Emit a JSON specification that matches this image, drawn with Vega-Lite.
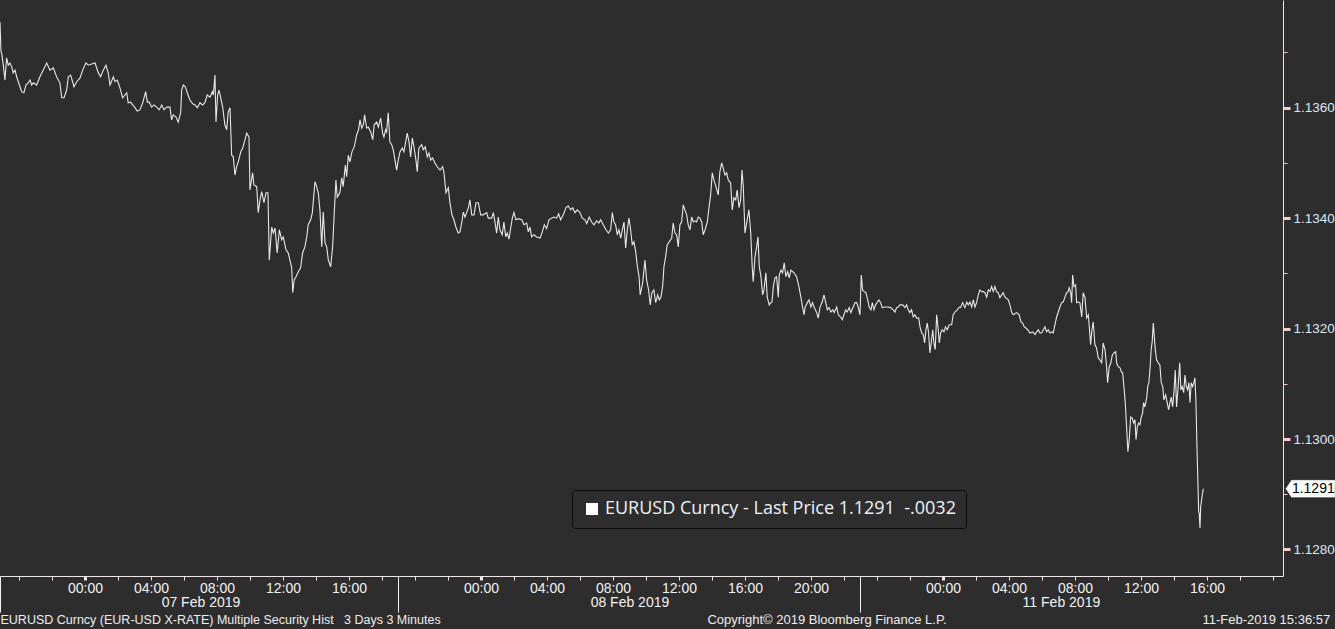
{
  "$schema": "https://vega.github.io/schema/vega-lite/v6.json",
  "width": 1283,
  "height": 576,
  "autosize": {"type": "none"},
  "padding": {"left": 0, "top": 0, "right": 52, "bottom": 53},
  "background": "#2d2d2d",
  "config": {"view": {"stroke": null}},
  "datasets": {
    "eurusd": [
      {"hour":-5.15,"price":1.13755},{"hour":-5.09,"price":1.13701},{"hour":-5.05,"price":1.13699},{"hour":-4.95,"price":1.13677},{"hour":-4.85,"price":1.1365},{"hour":-4.75,"price":1.1369},{"hour":-4.65,"price":1.13677},{"hour":-4.55,"price":1.13681},{"hour":-4.44,"price":1.13674},{"hour":-4.35,"price":1.13663},{"hour":-4.24,"price":1.13668},{"hour":-4.14,"price":1.13656},{"hour":-4.04,"price":1.13647},{"hour":-3.94,"price":1.13638},{"hour":-3.84,"price":1.13629},{"hour":-3.7,"price":1.13627},{"hour":-3.58,"price":1.13641},{"hour":-3.44,"price":1.13645},{"hour":-3.33,"price":1.1365},{"hour":-3.23,"price":1.13641},{"hour":-3.13,"price":1.13645},{"hour":-2.93,"price":1.13641},{"hour":-2.73,"price":1.13656},{"hour":-2.53,"price":1.13668},{"hour":-2.32,"price":1.13681},{"hour":-2.12,"price":1.13668},{"hour":-1.92,"price":1.13672},{"hour":-1.72,"price":1.13656},{"hour":-1.52,"price":1.13645},{"hour":-1.41,"price":1.13618},{"hour":-1.27,"price":1.13618},{"hour":-1.11,"price":1.13632},{"hour":-1.01,"price":1.13656},{"hour":-0.87,"price":1.13659},{"hour":-0.75,"price":1.13647},{"hour":-0.67,"price":1.13638},{"hour":-0.5,"price":1.13647},{"hour":-0.3,"price":1.13654},{"hour":-0.14,"price":1.13668},{"hour":0.06,"price":1.13681},{"hour":0.2,"price":1.13677},{"hour":0.41,"price":1.13679},{"hour":0.61,"price":1.13681},{"hour":0.81,"price":1.13663},{"hour":0.95,"price":1.13656},{"hour":1.11,"price":1.13668},{"hour":1.27,"price":1.13677},{"hour":1.41,"price":1.13663},{"hour":1.52,"price":1.13641},{"hour":1.72,"price":1.13656},{"hour":1.82,"price":1.13647},{"hour":1.96,"price":1.1365},{"hour":2.12,"price":1.13636},{"hour":2.28,"price":1.13618},{"hour":2.42,"price":1.13623},{"hour":2.53,"price":1.13627},{"hour":2.62,"price":1.13609},{"hour":2.77,"price":1.1361},{"hour":2.89,"price":1.13605},{"hour":3.03,"price":1.136},{"hour":3.17,"price":1.13594},{"hour":3.33,"price":1.13596},{"hour":3.5,"price":1.13609},{"hour":3.68,"price":1.13629},{"hour":3.78,"price":1.1361},{"hour":3.9,"price":1.1361},{"hour":4.04,"price":1.13601},{"hour":4.18,"price":1.13605},{"hour":4.35,"price":1.13601},{"hour":4.5,"price":1.13596},{"hour":4.65,"price":1.13605},{"hour":4.79,"price":1.13596},{"hour":4.95,"price":1.13601},{"hour":5.15,"price":1.13601},{"hour":5.25,"price":1.13578},{"hour":5.35,"price":1.13587},{"hour":5.52,"price":1.13583},{"hour":5.65,"price":1.13574},{"hour":5.8,"price":1.13591},{"hour":5.86,"price":1.13632},{"hour":5.96,"price":1.13641},{"hour":6.08,"price":1.13638},{"hour":6.2,"price":1.13627},{"hour":6.36,"price":1.13614},{"hour":6.53,"price":1.13607},{"hour":6.67,"price":1.13605},{"hour":6.81,"price":1.136},{"hour":6.97,"price":1.13609},{"hour":7.13,"price":1.13605},{"hour":7.27,"price":1.13609},{"hour":7.41,"price":1.13623},{"hour":7.58,"price":1.13619},{"hour":7.72,"price":1.13629},{"hour":7.78,"price":1.13623},{"hour":7.88,"price":1.13659},{"hour":7.94,"price":1.13574},{"hour":8.04,"price":1.13623},{"hour":8.12,"price":1.13632},{"hour":8.22,"price":1.13619},{"hour":8.35,"price":1.136},{"hour":8.48,"price":1.13569},{"hour":8.59,"price":1.1356},{"hour":8.68,"price":1.13592},{"hour":8.79,"price":1.136},{"hour":8.89,"price":1.13514},{"hour":8.99,"price":1.13511},{"hour":9.09,"price":1.13478},{"hour":9.19,"price":1.13493},{"hour":9.29,"price":1.13502},{"hour":9.44,"price":1.1352},
      {"hour":9.56,"price":1.13527},{"hour":9.7,"price":1.13542},{"hour":9.8,"price":1.13554},{"hour":9.94,"price":1.13547},{"hour":10.0,"price":1.13451},{"hour":10.16,"price":1.13482},{"hour":10.24,"price":1.1346},{"hour":10.41,"price":1.13457},{"hour":10.5,"price":1.1341},{"hour":10.61,"price":1.13433},{"hour":10.71,"price":1.13448},{"hour":10.85,"price":1.13428},{"hour":10.97,"price":1.13446},{"hour":11.09,"price":1.13446},{"hour":11.17,"price":1.13324},{"hour":11.32,"price":1.13384},{"hour":11.41,"price":1.13373},{"hour":11.52,"price":1.13382},{"hour":11.65,"price":1.13337},{"hour":11.78,"price":1.13379},{"hour":11.92,"price":1.13361},{"hour":12.02,"price":1.13366},{"hour":12.18,"price":1.13343},{"hour":12.32,"price":1.13337},{"hour":12.42,"price":1.13324},{"hour":12.53,"price":1.1331},{"hour":12.59,"price":1.13265},{"hour":12.68,"price":1.13288},{"hour":12.79,"price":1.13294},{"hour":12.93,"price":1.13303},{"hour":13.07,"price":1.1331},{"hour":13.19,"price":1.13337},{"hour":13.33,"price":1.13348},{"hour":13.44,"price":1.13366},{"hour":13.53,"price":1.13388},{"hour":13.68,"price":1.13397},{"hour":13.78,"price":1.1341},{"hour":13.94,"price":1.13466},{"hour":14.04,"price":1.13457},{"hour":14.14,"price":1.13446},{"hour":14.24,"price":1.13415},{"hour":14.35,"price":1.13348},{"hour":14.44,"price":1.13411},{"hour":14.55,"price":1.13355},{"hour":14.65,"price":1.13348},{"hour":14.75,"price":1.13324},{"hour":14.89,"price":1.13312},{"hour":15.01,"price":1.13348},{"hour":15.11,"price":1.1341},{"hour":15.21,"price":1.13469},{"hour":15.29,"price":1.13438},{"hour":15.45,"price":1.13446},{"hour":15.56,"price":1.13473},{"hour":15.65,"price":1.13457},{"hour":15.78,"price":1.13496},{"hour":15.86,"price":1.13475},{"hour":15.96,"price":1.13514},{"hour":16.06,"price":1.13502},{"hour":16.18,"price":1.1352},{"hour":16.32,"price":1.13529},{"hour":16.47,"price":1.13551},{"hour":16.58,"price":1.1356},{"hour":16.67,"price":1.13578},{"hour":16.77,"price":1.13563},{"hour":16.87,"price":1.13569},{"hour":16.95,"price":1.13587},{"hour":17.07,"price":1.13563},{"hour":17.17,"price":1.13565},{"hour":17.32,"price":1.13556},{"hour":17.44,"price":1.13542},{"hour":17.53,"price":1.13569},{"hour":17.68,"price":1.13574},{"hour":17.78,"price":1.13565},{"hour":17.92,"price":1.13581},{"hour":18.04,"price":1.13554},{"hour":18.12,"price":1.13547},{"hour":18.22,"price":1.1356},{"hour":18.28,"price":1.13556},{"hour":18.38,"price":1.13591},{"hour":18.48,"price":1.13538},{"hour":18.59,"price":1.13533},{"hour":18.68,"price":1.13524},{"hour":18.79,"price":1.13505},{"hour":18.89,"price":1.13487},{"hour":18.99,"price":1.13505},{"hour":19.09,"price":1.1352},{"hour":19.23,"price":1.13527},{"hour":19.33,"price":1.1352},{"hour":19.44,"price":1.13538},{"hour":19.53,"price":1.13554},{"hour":19.64,"price":1.13538},{"hour":19.74,"price":1.13511},{"hour":19.84,"price":1.13545},{"hour":19.94,"price":1.13529},{"hour":20.06,"price":1.13505},{"hour":20.14,"price":1.13484},{"hour":20.24,"price":1.13527},{"hour":20.41,"price":1.13533},{"hour":20.5,"price":1.13524},{"hour":20.62,"price":1.13529},{"hour":20.75,"price":1.13511},{"hour":20.85,"price":1.13518},{"hour":20.95,"price":1.13505},{"hour":21.07,"price":1.13509},{"hour":21.21,"price":1.135},{"hour":21.35,"price":1.13493},{"hour":21.52,"price":1.13487},{"hour":21.68,"price":1.13493},{"hour":21.76,"price":1.13482},{"hour":21.88,"price":1.13446},{"hour":22.02,"price":1.13455},{"hour":22.12,"price":1.13428},{"hour":22.24,"price":1.13406},{"hour":22.36,"price":1.13397},{"hour":22.48,"price":1.13384},{"hour":22.62,"price":1.13373},{"hour":22.73,"price":1.13375},{"hour":22.83,"price":1.13391},{"hour":22.93,"price":1.13411},{"hour":23.03,"price":1.13402},{"hour":23.13,"price":1.1341},{"hour":23.25,"price":1.1342},{"hour":23.33,"price":1.13433},{"hour":23.44,"price":1.13406},{"hour":23.58,"price":1.13406},{"hour":23.7,"price":1.13428},{"hour":23.84,"price":1.13428},{"hour":23.98,"price":1.13406},{"hour":24.14,"price":1.13406},
      {"hour":24.35,"price":1.1341},{"hour":24.44,"price":1.134},{"hour":24.65,"price":1.134},{"hour":24.75,"price":1.1341},{"hour":24.85,"price":1.13393},{"hour":24.95,"price":1.13373},{"hour":25.05,"price":1.13402},{"hour":25.15,"price":1.13379},{"hour":25.29,"price":1.1337},{"hour":25.39,"price":1.13393},{"hour":25.5,"price":1.13366},{"hour":25.59,"price":1.13373},{"hour":25.7,"price":1.13362},{"hour":25.8,"price":1.13382},{"hour":25.9,"price":1.134},{"hour":26.0,"price":1.1341},{"hour":26.12,"price":1.13397},{"hour":26.26,"price":1.13399},{"hour":26.47,"price":1.13397},{"hour":26.61,"price":1.13388},{"hour":26.77,"price":1.13391},{"hour":26.87,"price":1.13375},{"hour":26.97,"price":1.13384},{"hour":27.07,"price":1.13366},{"hour":27.21,"price":1.1337},{"hour":27.38,"price":1.13366},{"hour":27.58,"price":1.13364},{"hour":27.72,"price":1.13375},{"hour":27.84,"price":1.13388},{"hour":27.98,"price":1.13381},{"hour":28.12,"price":1.13397},{"hour":28.28,"price":1.134},{"hour":28.42,"price":1.13402},{"hour":28.59,"price":1.134},{"hour":28.71,"price":1.13408},{"hour":28.83,"price":1.13397},{"hour":28.99,"price":1.13406},{"hour":29.15,"price":1.13419},{"hour":29.29,"price":1.13422},{"hour":29.44,"price":1.13415},{"hour":29.56,"price":1.13419},{"hour":29.7,"price":1.1341},{"hour":29.84,"price":1.13415},{"hour":30.0,"price":1.1341},{"hour":30.14,"price":1.134},{"hour":30.3,"price":1.13397},{"hour":30.41,"price":1.1339},{"hour":30.56,"price":1.13402},{"hour":30.71,"price":1.13393},{"hour":30.85,"price":1.13388},{"hour":31.01,"price":1.13395},{"hour":31.15,"price":1.13391},{"hour":31.25,"price":1.13397},{"hour":31.41,"price":1.13388},{"hour":31.58,"price":1.13379},{"hour":31.72,"price":1.13373},{"hour":31.86,"price":1.13379},{"hour":31.96,"price":1.1341},{"hour":32.06,"price":1.13393},{"hour":32.16,"price":1.13388},{"hour":32.26,"price":1.1337},{"hour":32.36,"price":1.13379},{"hour":32.47,"price":1.13364},{"hour":32.59,"price":1.13382},{"hour":32.67,"price":1.13393},{"hour":32.77,"price":1.13346},{"hour":32.87,"price":1.13379},{"hour":32.97,"price":1.134},{"hour":33.07,"price":1.13379},{"hour":33.17,"price":1.13352},{"hour":33.27,"price":1.13357},{"hour":33.38,"price":1.13339},{"hour":33.47,"price":1.13315},{"hour":33.58,"price":1.13294},{"hour":33.65,"price":1.13261},{"hour":33.8,"price":1.13283},{"hour":33.94,"price":1.13324},{"hour":34.04,"price":1.13288},{"hour":34.16,"price":1.1327},{"hour":34.26,"price":1.13243},{"hour":34.36,"price":1.13265},{"hour":34.48,"price":1.1327},{"hour":34.59,"price":1.13247},{"hour":34.71,"price":1.13261},{"hour":34.81,"price":1.13252},{"hour":34.91,"price":1.13257},{"hour":35.01,"price":1.13276},{"hour":35.09,"price":1.13312},{"hour":35.19,"price":1.1333},{"hour":35.29,"price":1.13352},{"hour":35.41,"price":1.13357},{"hour":35.56,"price":1.13364},{"hour":35.65,"price":1.13391},{"hour":35.76,"price":1.13373},{"hour":35.86,"price":1.1337},{"hour":35.96,"price":1.13348},{"hour":36.06,"price":1.13388},{"hour":36.16,"price":1.13393},{"hour":36.26,"price":1.13424},{"hour":36.36,"price":1.13415},{"hour":36.47,"price":1.13406},{"hour":36.56,"price":1.13388},{"hour":36.67,"price":1.13379},{"hour":36.77,"price":1.13402},{"hour":36.87,"price":1.13393},{"hour":36.97,"price":1.13395},{"hour":37.07,"price":1.13393},{"hour":37.17,"price":1.13402},{"hour":37.27,"price":1.134},{"hour":37.38,"price":1.13393},{"hour":37.47,"price":1.1337},{"hour":37.58,"price":1.13379},{"hour":37.72,"price":1.13393},{"hour":37.82,"price":1.13419},{"hour":37.92,"price":1.13442},{"hour":38.02,"price":1.13482},{"hour":38.12,"price":1.13469},{"hour":38.24,"price":1.13457},{"hour":38.38,"price":1.13442},{"hour":38.48,"price":1.13484},
      {"hour":38.59,"price":1.135},{"hour":38.68,"price":1.13491},{"hour":38.79,"price":1.13478},{"hour":38.89,"price":1.13482},{"hour":38.99,"price":1.13469},{"hour":39.13,"price":1.13464},{"hour":39.23,"price":1.13415},{"hour":39.33,"price":1.13437},{"hour":39.44,"price":1.13433},{"hour":39.53,"price":1.13451},{"hour":39.64,"price":1.13419},{"hour":39.74,"price":1.13433},{"hour":39.82,"price":1.13487},{"hour":39.9,"price":1.13457},{"hour":40.0,"price":1.13373},{"hour":40.1,"price":1.13391},{"hour":40.24,"price":1.13415},{"hour":40.35,"price":1.13373},{"hour":40.44,"price":1.13312},{"hour":40.5,"price":1.13285},{"hour":40.61,"price":1.1333},{"hour":40.71,"price":1.13348},{"hour":40.79,"price":1.13366},{"hour":40.87,"price":1.13312},{"hour":40.97,"price":1.13294},{"hour":41.07,"price":1.13261},{"hour":41.15,"price":1.1327},{"hour":41.27,"price":1.13301},{"hour":41.35,"price":1.13257},{"hour":41.47,"price":1.13243},{"hour":41.56,"price":1.13247},{"hour":41.64,"price":1.13248},{"hour":41.72,"price":1.13276},{"hour":41.82,"price":1.13292},{"hour":41.92,"price":1.13294},{"hour":42.02,"price":1.13257},{"hour":42.08,"price":1.13297},{"hour":42.18,"price":1.13306},{"hour":42.28,"price":1.13301},{"hour":42.38,"price":1.13319},{"hour":42.48,"price":1.13294},{"hour":42.59,"price":1.13303},{"hour":42.68,"price":1.13292},{"hour":42.79,"price":1.13306},{"hour":42.97,"price":1.13301},{"hour":43.13,"price":1.13294},{"hour":43.27,"price":1.13276},{"hour":43.39,"price":1.13257},{"hour":43.5,"price":1.13238},{"hour":43.58,"price":1.13225},{"hour":43.65,"price":1.13239},{"hour":43.78,"price":1.13247},{"hour":43.88,"price":1.13252},{"hour":44.0,"price":1.13239},{"hour":44.1,"price":1.13247},{"hour":44.2,"price":1.13238},{"hour":44.35,"price":1.13229},{"hour":44.44,"price":1.13219},{"hour":44.55,"price":1.13239},{"hour":44.68,"price":1.13248},{"hour":44.79,"price":1.13261},{"hour":44.89,"price":1.13248},{"hour":44.99,"price":1.13234},{"hour":45.09,"price":1.13238},{"hour":45.21,"price":1.1323},{"hour":45.32,"price":1.13234},{"hour":45.41,"price":1.13229},{"hour":45.56,"price":1.13239},{"hour":45.66,"price":1.13225},{"hour":45.8,"price":1.13221},{"hour":45.9,"price":1.13216},{"hour":46.0,"price":1.13225},{"hour":46.1,"price":1.13234},{"hour":46.2,"price":1.1323},{"hour":46.32,"price":1.13238},{"hour":46.42,"price":1.13229},{"hour":46.56,"price":1.13239},{"hour":46.67,"price":1.13247},{"hour":46.77,"price":1.13247},{"hour":46.87,"price":1.13238},{"hour":46.97,"price":1.13225},{"hour":47.05,"price":1.13297},{"hour":47.13,"price":1.1327},{"hour":47.23,"price":1.13267},{"hour":47.33,"price":1.13265},{"hour":47.44,"price":1.13252},{"hour":47.53,"price":1.13239},{"hour":47.64,"price":1.13234},{"hour":47.72,"price":1.13247},{"hour":47.82,"price":1.13234},{"hour":47.92,"price":1.13243},{"hour":48.02,"price":1.13248},{"hour":48.12,"price":1.13252},{"hour":48.22,"price":1.13247},{"hour":48.32,"price":1.13238},{"hour":48.48,"price":1.13239},{"hour":48.68,"price":1.13239},{"hour":48.83,"price":1.13238},{"hour":48.99,"price":1.13234},{"hour":49.09,"price":1.1323},{"hour":49.19,"price":1.13238},{"hour":49.29,"price":1.13239},{"hour":49.39,"price":1.13243},{"hour":49.56,"price":1.13243},{"hour":49.7,"price":1.13238},{"hour":49.8,"price":1.13243},{"hour":49.9,"price":1.13234},{"hour":50.0,"price":1.13229},{"hour":50.1,"price":1.13234},{"hour":50.2,"price":1.13221},{"hour":50.3,"price":1.13225},{"hour":50.41,"price":1.13219},{"hour":50.53,"price":1.13219},{"hour":50.61,"price":1.13203},{"hour":50.71,"price":1.13192},{"hour":50.81,"price":1.13189},{"hour":50.89,"price":1.13174},{"hour":50.97,"price":1.13198},{"hour":51.05,"price":1.1321},{"hour":51.13,"price":1.13192},{"hour":51.21,"price":1.13156},{"hour":51.29,"price":1.13174},{"hour":51.38,"price":1.13198},{"hour":51.45,"price":1.13174},{"hour":51.53,"price":1.13162},{"hour":51.62,"price":1.13225},{"hour":51.7,"price":1.13203},{"hour":51.78,"price":1.13174},{"hour":51.86,"price":1.13192},{"hour":51.96,"price":1.13198},{"hour":52.06,"price":1.13194},{"hour":52.16,"price":1.13203},{"hour":52.26,"price":1.13198},{"hour":52.38,"price":1.13207},{"hour":52.53,"price":1.13207},{"hour":52.62,"price":1.13225},{"hour":52.73,"price":1.1323},{"hour":52.87,"price":1.13234},{"hour":52.99,"price":1.13239},{"hour":53.07,"price":1.13238},{"hour":53.19,"price":1.13247},
      {"hour":53.33,"price":1.13238},{"hour":53.44,"price":1.13248},{"hour":53.53,"price":1.13243},{"hour":53.64,"price":1.13248},{"hour":53.74,"price":1.13239},{"hour":53.84,"price":1.13252},{"hour":53.94,"price":1.13239},{"hour":54.04,"price":1.13247},{"hour":54.14,"price":1.13261},{"hour":54.24,"price":1.1327},{"hour":54.35,"price":1.13267},{"hour":54.44,"price":1.13267},{"hour":54.55,"price":1.13265},{"hour":54.65,"price":1.13257},{"hour":54.75,"price":1.1327},{"hour":54.85,"price":1.13267},{"hour":54.95,"price":1.13276},{"hour":55.05,"price":1.13267},{"hour":55.15,"price":1.13276},{"hour":55.25,"price":1.13267},{"hour":55.35,"price":1.13265},{"hour":55.45,"price":1.13256},{"hour":55.56,"price":1.13261},{"hour":55.65,"price":1.13265},{"hour":55.76,"price":1.13257},{"hour":55.96,"price":1.13252},{"hour":56.06,"price":1.13243},{"hour":56.16,"price":1.1323},{"hour":56.26,"price":1.13225},{"hour":56.47,"price":1.13229},{"hour":56.62,"price":1.13225},{"hour":56.73,"price":1.13212},{"hour":56.83,"price":1.1321},{"hour":56.93,"price":1.13203},{"hour":57.03,"price":1.13201},{"hour":57.13,"price":1.13198},{"hour":57.27,"price":1.13192},{"hour":57.44,"price":1.13194},{"hour":57.58,"price":1.13189},{"hour":57.68,"price":1.13194},{"hour":57.78,"price":1.13198},{"hour":57.88,"price":1.13192},{"hour":57.98,"price":1.13192},{"hour":58.08,"price":1.13198},{"hour":58.18,"price":1.13203},{"hour":58.28,"price":1.13194},{"hour":58.38,"price":1.13198},{"hour":58.48,"price":1.13192},{"hour":58.59,"price":1.13194},{"hour":58.68,"price":1.13192},{"hour":58.79,"price":1.13207},{"hour":58.89,"price":1.13221},{"hour":58.99,"price":1.1323},{"hour":59.09,"price":1.13239},{"hour":59.19,"price":1.13247},{"hour":59.29,"price":1.13248},{"hour":59.39,"price":1.13257},{"hour":59.5,"price":1.13265},{"hour":59.59,"price":1.13267},{"hour":59.65,"price":1.13274},{"hour":59.74,"price":1.13265},{"hour":59.8,"price":1.13247},{"hour":59.86,"price":1.13297},{"hour":59.94,"price":1.13276},{"hour":60.04,"price":1.13279},{"hour":60.1,"price":1.13247},{"hour":60.2,"price":1.13248},{"hour":60.3,"price":1.13247},{"hour":60.41,"price":1.13221},{"hour":60.5,"price":1.13265},{"hour":60.61,"price":1.13256},{"hour":60.71,"price":1.13219},{"hour":60.81,"price":1.13225},{"hour":60.87,"price":1.13203},{"hour":60.95,"price":1.13171},{"hour":61.03,"price":1.13198},{"hour":61.11,"price":1.13212},{"hour":61.21,"price":1.13171},{"hour":61.31,"price":1.13165},{"hour":61.41,"price":1.13147},{"hour":61.52,"price":1.13143},{"hour":61.62,"price":1.13138},{"hour":61.71,"price":1.13174},{"hour":61.82,"price":1.13162},{"hour":61.92,"price":1.13131},{"hour":61.98,"price":1.13102},{"hour":62.08,"price":1.13131},{"hour":62.18,"price":1.13138},{"hour":62.26,"price":1.13152},{"hour":62.36,"price":1.13156},{"hour":62.47,"price":1.13158},{"hour":62.53,"price":1.13138},{"hour":62.62,"price":1.13131},{"hour":62.73,"price":1.13129},{"hour":62.81,"price":1.13122},{"hour":62.89,"price":1.1312},{"hour":62.97,"price":1.13095},{"hour":63.05,"price":1.13066},{"hour":63.13,"price":1.13022},{"hour":63.21,"price":1.12977},{"hour":63.29,"price":1.12999},{"hour":63.38,"price":1.1304},{"hour":63.47,"price":1.13038},{"hour":63.56,"price":1.13029},{"hour":63.64,"price":1.13035},{"hour":63.7,"price":1.12999},{"hour":63.78,"price":1.13022},{"hour":63.86,"price":1.13029},{"hour":63.94,"price":1.13026},{"hour":64.02,"price":1.1304},{"hour":64.1,"price":1.13047},{"hour":64.16,"price":1.13066},{"hour":64.24,"price":1.13058},{"hour":64.35,"price":1.13075},{"hour":64.41,"price":1.13095},{"hour":64.48,"price":1.13102},{"hour":64.56,"price":1.13131},{"hour":64.62,"price":1.13162},{"hour":64.68,"price":1.13176},{"hour":64.75,"price":1.1321},{"hour":64.81,"price":1.13185},{"hour":64.87,"price":1.13162},{"hour":64.95,"price":1.13143},{"hour":65.05,"price":1.13138},{"hour":65.15,"price":1.13134},{"hour":65.23,"price":1.13102},{"hour":65.32,"price":1.13095},{"hour":65.39,"price":1.13071},{"hour":65.5,"price":1.1308},{"hour":65.59,"price":1.13066},{"hour":65.68,"price":1.13053},{"hour":65.76,"price":1.13066},{"hour":65.84,"price":1.13076},{"hour":65.92,"price":1.13058},{"hour":66.0,"price":1.13084},{"hour":66.08,"price":1.13125},{"hour":66.16,"price":1.13058},{"hour":66.24,"price":1.13089},{"hour":66.35,"price":1.13138},{"hour":66.42,"price":1.13089},{"hour":66.5,"price":1.13095},{"hour":66.59,"price":1.13084},{"hour":66.67,"price":1.13116},{"hour":66.75,"price":1.13095},{"hour":66.83,"price":1.13089},{"hour":66.91,"price":1.13102},{"hour":66.97,"price":1.13066},{"hour":67.05,"price":1.13102},{"hour":67.13,"price":1.13095},{"hour":67.21,"price":1.13102},{"hour":67.27,"price":1.13111},{"hour":67.33,"price":1.13071},{"hour":67.39,"price":1.12993},{"hour":67.45,"price":1.12926},{"hour":67.5,"price":1.12868},{"hour":67.53,"price":1.12866},{"hour":67.58,"price":1.12839},{"hour":67.62,"price":1.12877},{"hour":67.7,"price":1.12895},{"hour":67.78,"price":1.1291}
    ]
  },
  "data": {"name": "eurusd"},
  "resolve": {"axis": {"x": "independent", "y": "independent"}},
  "layer": [
    {
      "mark": {"type": "line", "strokeWidth": 1.1, "clip": true},
      "encoding": {
        "x": {
          "field": "hour", "type": "quantitative",
          "scale": {"domain": [-5.15, 72.61], "nice": false, "zero": false},
          "axis": {
            "orient": "bottom", "title": null, "grid": false,
            "values": [-4,-2,0,2,4,6,8,10,12,14,16,18,20,22,24,26,28,30,32,34,36,38,40,42,44,46,48,50,52,54,56,58,60,62,64,66,68,70,72],
            "domain": true, "domainColor": "#efe6e6", "domainWidth": 1,
            "ticks": true, "tickColor": "#efe6e6", "tickSize": 4,
            "tickWidth": {"condition": {"test": "datum.value == 0 || datum.value == 24 || datum.value == 52", "value": 3}, "value": 1},
            "labelExpr": "indexof([0,4,8,12,16,24,28,32,36,40,44,52,56,60,64,68], datum.value) < 0 ? '' : format(datum.value < 24 ? datum.value : (datum.value < 47 ? datum.value - 24 : datum.value - 52), '02d') + ':00'",
            "labelColor": "#f2f2f2", "labelFont": "Liberation Sans", "labelFontSize": 14,
            "labelPadding": 1, "labelFlush": false, "labelOverlap": false, "labelBound": false
          }
        },
        "y": {
          "field": "price", "type": "quantitative",
          "scale": {"domain": [1.12752, 1.13795], "nice": false, "zero": false},
          "axis": {
            "orient": "right", "title": null, "grid": false,
            "values": [1.128, 1.129, 1.13, 1.131, 1.132, 1.133, 1.134, 1.135, 1.136, 1.137],
            "domain": true, "domainColor": "#f2e2e2", "domainWidth": 1,
            "tickColor": "#f4cccc",
            "tickSize": {"condition": {"test": "round(datum.value * 1000) % 2 == 0", "value": 7}, "value": 4},
            "tickWidth": {"condition": {"test": "round(datum.value * 1000) % 2 == 0", "value": 3}, "value": 1},
            "labelExpr": "round(datum.value * 1000) % 2 == 0 ? format(datum.value, '.4f') : ''",
            "labelColor": "#dde8f5", "labelFont": "Liberation Sans", "labelFontSize": 13.5,
            "labelPadding": 3, "labelFlush": false, "labelOverlap": false, "labelBound": false
          }
        },
        "color": {
          "datum": "EURUSD Curncy - Last Price 1.1291\u00a0\u00a0-.0032",
          "scale": {"range": ["#e8e8e8"]},
          "legend": {
            "title": null, "orient": "none", "legendX": 572, "legendY": 490,
            "padding": 10, "strokeColor": "#0a0a0a", "fillColor": "#2d2d2d", "cornerRadius": 3,
            "labelFont": "Open Sans", "labelFontSize": 18, "labelColor": "#eef2f8", "labelLimit": 600,
            "labelOffset": 4, "symbolOffset": 1,
            "symbolType": "square", "symbolSize": 144, "symbolFillColor": "#ffffff", "symbolStrokeColor": "#ffffff", "symbolStrokeWidth": 0,
            "encode": {"symbols": {"update": {"fill": {"value": "#ffffff"}, "stroke": {"value": "#ffffff"}, "strokeWidth": {"value": 0}, "shape": {"value": "square"}, "size": {"value": 144}}}}
          }
        }
      }
    },
    {
      "transform": [
        {"joinaggregate": [{"op": "max", "field": "hour", "as": "hmax"}]},
        {"filter": "datum.hour == datum.hmax"}
      ],
      "mark": {"type": "point", "shape": "M82,0L88,-9L132,-9L132,9L88,9Z", "size": 4, "filled": true, "fill": "#ffffff", "stroke": "#111111", "strokeWidth": 0.6, "opacity": 1},
      "encoding": {
        "x": {
          "field": "hour", "type": "quantitative",
          "scale": {"domain": [-5.15, 72.61], "nice": false, "zero": false},
          "axis": {
            "orient": "bottom", "title": null, "grid": false, "domain": false, "labels": false,
            "values": [-5.15, 19, 47],
            "ticks": true, "tickSize": 36, "tickColor": "#f2f2f2", "tickWidth": 1
          }
        },
        "y": {"field": "price", "type": "quantitative", "axis": null}
      }
    },
    {
      "transform": [
        {"joinaggregate": [{"op": "max", "field": "hour", "as": "hmax"}]},
        {"filter": "datum.hour == datum.hmax"}
      ],
      "mark": {"type": "text", "dx": 110, "align": "center", "baseline": "middle", "color": "#000000", "font": "Liberation Sans", "fontSize": 14},
      "encoding": {
        "x": {
          "field": "hour", "type": "quantitative",
          "scale": {"domain": [-5.15, 72.61], "nice": false, "zero": false},
          "axis": {
            "orient": "bottom", "title": null, "grid": false, "domain": false, "ticks": false,
            "values": [7, 33, 59.15],
            "labelExpr": "datum.value < 20 ? '07 Feb 2019' : (datum.value < 50 ? '08 Feb 2019' : '11 Feb 2019')",
            "labelColor": "#f2f2f2", "labelFont": "Liberation Sans", "labelFontSize": 14,
            "labelPadding": 19, "labelFlush": false, "labelOverlap": false, "labelBound": false
          }
        },
        "y": {"field": "price", "type": "quantitative", "axis": null},
        "text": {"field": "price", "type": "quantitative", "format": ".4f"}
      }
    },
    {
      "transform": [
        {"joinaggregate": [{"op": "max", "field": "hour", "as": "hmax"}]},
        {"filter": "datum.hour == datum.hmax"}
      ],
      "mark": {"type": "point", "opacity": 0},
      "encoding": {
        "x": {
          "field": "hour", "type": "quantitative",
          "scale": {"domain": [-5.15, 72.61], "nice": false, "zero": false},
          "axis": {
            "orient": "bottom", "title": null, "grid": false, "domain": false, "ticks": false,
            "values": [-5.15, 44.94, 67.7],
            "labelExpr": "datum.value < 0 ? 'EURUSD Curncy (EUR-USD X-RATE) Multiple Security Hist\u00a0\u00a0\u00a03 Days 3 Minutes' : (datum.value < 50 ? 'Copyright\u00a9 2019 Bloomberg Finance L.P.' : '11-Feb-2019 15:36:57')",
            "labelAlign": {"condition": {"test": "datum.value > 40 && datum.value < 50", "value": "center"}, "value": "left"},
            "labelFontSize": {"condition": {"test": "datum.value < 0", "value": 12.5}, "value": 13},
            "labelColor": "#eeeeee", "labelFont": "Liberation Sans", "labelLimit": 700,
            "labelPadding": 37, "labelFlush": false, "labelOverlap": false, "labelBound": false
          }
        },
        "y": {"field": "price", "type": "quantitative", "axis": null}
      }
    }
  ]
}
